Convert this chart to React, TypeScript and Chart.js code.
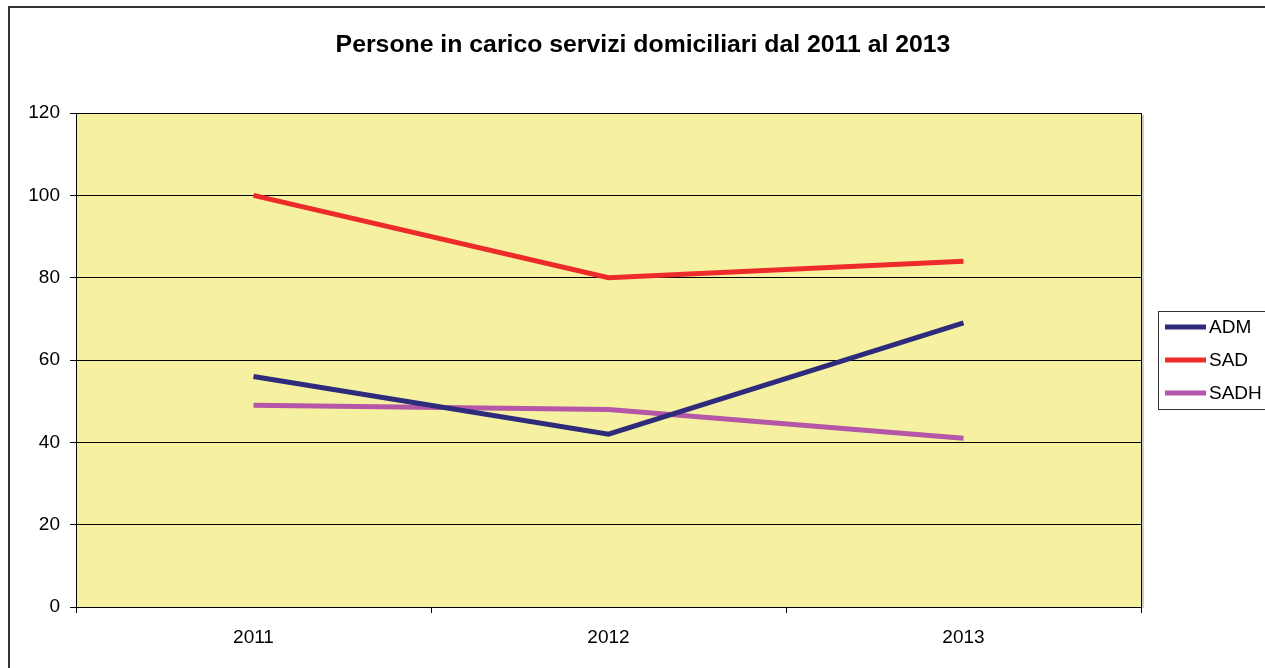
import React, { useEffect, useRef } from "react";
import { Chart, registerables } from "chart.js";

Chart.register(...registerables);

const categories = ["2011", "2012", "2013"];
const admValues = [56, 42, 69];
const sadValues = [100, 80, 84];
const sadhValues = [49, 48, 41];
const seriesLabels = ["ADM", "SAD", "SADH"];
const seriesColors = ["#2E2A7C", "#EE2B2B", "#B457A8"];
const titleText = "Persone in carico servizi domiciliari dal 2011 al 2013";

const FONT = "'Liberation Sans', Arial, sans-serif";

const decorPlugin = {
  id: "decor",
  beforeDraw(chart: any) {
    const { ctx, chartArea } = chart;
    ctx.save();
    ctx.fillStyle = "#ffffff";
    ctx.fillRect(0, 0, chart.width, chart.height);
    ctx.strokeStyle = "#333333";
    ctx.lineWidth = 2;
    ctx.strokeRect(9, 7, chart.width + 20, chart.height + 20);
    ctx.fillStyle = "#F5F1A0";
    ctx.fillRect(chartArea.left, chartArea.top, chartArea.right - chartArea.left, chartArea.bottom - chartArea.top);
    ctx.restore();
  },
  afterDraw(chart: any) {
    const { ctx, chartArea } = chart;
    ctx.save();
    // plot border
    ctx.strokeStyle = "#000000";
    ctx.lineWidth = 1;
    ctx.strokeRect(chartArea.left + 0.5, chartArea.top + 0.5, chartArea.right - chartArea.left, chartArea.bottom - chartArea.top);
    ctx.strokeStyle = "#9a9a9a";
    ctx.beginPath();
    ctx.moveTo(chartArea.right + 2, chartArea.top + 2);
    ctx.lineTo(chartArea.right + 2, chartArea.bottom + 1);
    ctx.stroke();
    // title
    ctx.fillStyle = "#000000";
    ctx.font = `bold 24.8px ${FONT}`;
    ctx.textAlign = "center";
    ctx.textBaseline = "middle";
    ctx.fillText(titleText, 643, 45);
    // legend
    const lx = 1158, ly = 311, lw = 130, lh = 98;
    ctx.fillStyle = "#ffffff";
    ctx.fillRect(lx, ly, lw, lh);
    ctx.strokeStyle = "#333333";
    ctx.lineWidth = 1;
    ctx.strokeRect(lx + 0.5, ly + 0.5, lw, lh);
    ctx.font = `19px ${FONT}`;
    ctx.textAlign = "left";
    ctx.textBaseline = "middle";
    chart.data.datasets.forEach((ds: any, i: number) => {
      const y = ly + 16 + i * 33;
      ctx.strokeStyle = ds.borderColor;
      ctx.lineWidth = 5;
      ctx.beginPath();
      ctx.moveTo(1165, y);
      ctx.lineTo(1206, y);
      ctx.stroke();
      ctx.fillStyle = "#000000";
      ctx.fillText(ds.label, 1209, y + 1);
    });
    ctx.restore();
  },
};

export default function App() {
  const ref = useRef<HTMLCanvasElement>(null);
  useEffect(() => {
    document.body.style.margin = "0";
    const canvas = ref.current!;
    const chart = new Chart(canvas, {
      type: "line",
      data: {
        labels: categories,
        datasets: [
          { label: seriesLabels[0], data: admValues, borderColor: seriesColors[0], backgroundColor: seriesColors[0] },
          { label: seriesLabels[1], data: sadValues, borderColor: seriesColors[1], backgroundColor: seriesColors[1] },
          { label: seriesLabels[2], data: sadhValues, borderColor: seriesColors[2], backgroundColor: seriesColors[2] },
        ],
      },
      options: {
        responsive: false,
        animation: false,
        devicePixelRatio: 1,
        elements: {
          line: { borderWidth: 5, tension: 0, borderCapStyle: "butt" },
          point: { radius: 0, hoverRadius: 0 },
        },
        layout: { padding: { top: 113, right: 124, left: 0, bottom: 0 } },
        plugins: {
          legend: { display: false },
          title: { display: false },
          tooltip: { enabled: false },
        },
        scales: {
          x: {
            offset: true,
            grid: { offset: true, drawOnChartArea: false, drawTicks: true, tickLength: 6, color: "#000000" },
            border: { display: true, color: "#000000" },
            ticks: { color: "#000000", font: { family: FONT, size: 19 }, padding: 13, maxRotation: 0 },
            afterFit: (s: any) => { s.height = 61; },
          },
          y: {
            min: 0,
            max: 120,
            grid: { color: "#000000", tickLength: 6, drawTicks: true },
            border: { display: true, color: "#000000" },
            ticks: { stepSize: 20, color: "#000000", font: { family: FONT, size: 19 }, padding: 10 },
            afterFit: (s: any) => { s.width = 76; },
          },
        },
      },
      plugins: [decorPlugin],
    });
    return () => chart.destroy();
  }, []);
  return <canvas ref={ref} width={1265} height={668} style={{ display: "block" }} />;
}
